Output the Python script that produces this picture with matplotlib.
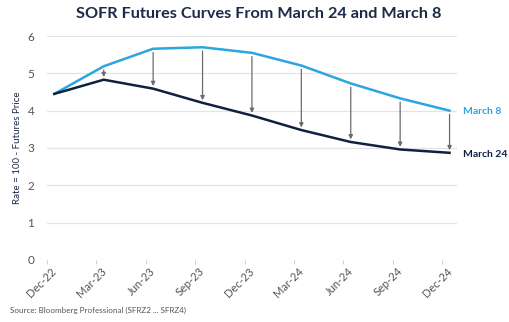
import matplotlib
matplotlib.use("Agg")
import matplotlib.pyplot as plt
import matplotlib.transforms as mtransforms
import numpy as np

tick_labels = ["Dec-22", "Mar-23", "Jun-23", "Sep-23", "Dec-23", "Mar-24", "Jun-24", "Sep-24", "Dec-24"]
march8 = [4.45, 5.19, 5.66, 5.70, 5.55, 5.21, 4.73, 4.33, 4.00]
march24 = [4.45, 4.83, 4.59, 4.21, 3.87, 3.48, 3.16, 2.96, 2.87]

c_light = "#2BA6DE"
c_dark = "#0E2240"
c_text = "#1B2A47"
c_grey = "#555555"

plt.rcParams['font.family'] = ['Lato', 'DejaVu Sans']

fig = plt.figure(figsize=(5.10, 3.22), dpi=100)
ax = fig.add_axes([0.092, 0.193, 0.804, 0.695])

ticks = np.arange(len(tick_labels))
xd = ticks + 0.15

ax.plot(xd, march8, color=c_light, lw=1.8, solid_joinstyle='round')
ax.plot(xd, march24, color=c_dark, lw=1.8, solid_joinstyle='round')

for x, u, l in zip(xd[1:], march8[1:], march24[1:]):
    ax.annotate("", xy=(x, l + 0.07), xytext=(x, u - 0.1),
                arrowprops=dict(arrowstyle="-|>", color="#6b6b6b", lw=0.9,
                                mutation_scale=6, shrinkA=0, shrinkB=0))

ax.set_xlim(0, 8.3)
ax.set_ylim(0, 6)
ax.set_yticks(range(0, 7))
ax.set_xticks(ticks)
ax.tick_params(axis="x", length=3, color="#d0d0d0", width=0.8, pad=1, labelsize=8, labelcolor=c_grey)
ax.set_xticklabels(tick_labels, rotation=45, ha="right", va="top", rotation_mode="anchor")
offset = mtransforms.ScaledTranslation(4 / 100, 0, fig.dpi_scale_trans)
for lab in ax.get_xticklabels():
    lab.set_transform(lab.get_transform() + offset)
ax.grid(axis="y", color="#e4e4e4", lw=0.9)
ax.set_axisbelow(True)
for s in ax.spines.values():
    s.set_visible(False)
ax.tick_params(axis="y", length=0, pad=9, labelsize=8.5, labelcolor=c_grey)

ax.set_ylabel("Rate = 100 - Futures Price", fontsize=7, color=c_text, labelpad=4)

ax.text(8.42, march8[-1] - 0.02, "March 8", color=c_light, fontsize=7.5, fontweight="bold",
        va="center", ha="left", transform=ax.transData, clip_on=False)
ax.text(8.42, march24[-1] - 0.05, "March 24", color=c_dark, fontsize=7.5, fontweight="bold",
        va="center", ha="left", transform=ax.transData, clip_on=False)

fig.text(0.508, 0.955, "SOFR Futures Curves From March 24 and March 8", ha="center", va="center",
         fontsize=11.7, fontweight="bold", color=c_text)
fig.text(0.02, 0.035, "Source: Bloomberg Professional (SFRZ2 ... SFRZ4)", ha="left", va="center",
         fontsize=5.8, color=c_grey)

fig.savefig("out.png", dpi=100)
